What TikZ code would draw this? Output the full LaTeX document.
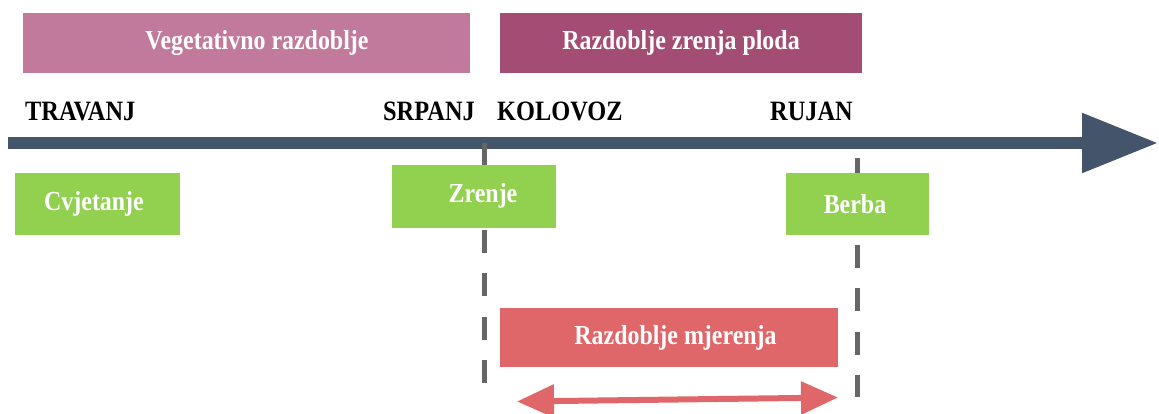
\documentclass[tikz,border=0pt]{standalone}
\usepackage{fontspec}
\setmainfont{Liberation Serif}[FakeStretch=0.87]
\usetikzlibrary{arrows.meta}
\definecolor{vegc}{HTML}{C27A9C}
\definecolor{zrc}{HTML}{A44D74}
\definecolor{grn}{HTML}{92D050}
\definecolor{redc}{HTML}{DF6769}
\definecolor{axc}{HTML}{44546A}
\definecolor{dashc}{HTML}{666666}
\begin{document}
\begin{tikzpicture}[x=1pt,y=1pt,
  box/.style={rectangle, inner sep=0pt, draw=none},
  btext/.style={text=white, font=\fontsize{27.5}{30}\selectfont\bfseries, inner sep=0pt},
  month/.style={text=black, font=\fontsize{28}{30}\selectfont\bfseries, inner sep=0pt, anchor=base west},
  vdash/.style={draw=dashc, line width=5pt, dash pattern=on 23pt off 20.5pt},
  axis/.style={draw=axc, line width=12pt, -{Triangle[length=76pt,width=57pt]}},
  meas/.style={draw=redc, line width=6pt, {Triangle[length=37pt,width=32pt]}-{Triangle[length=37pt,width=32pt]}}
]
\useasboundingbox (0,0) rectangle (1159,-413);

% timeline
\coordinate (axL) at (8,-143);
\coordinate (axR) at (1158,-143);
\draw[axis] (axL) -- (axR);

% dashed verticals
\coordinate (d1a) at (484,-142.5);
\coordinate (d1b) at (484,-385);
\coordinate (d2a) at (857,-157.5);
\coordinate (d2b) at (857,-397);
\draw[vdash] (d1a) -- (d1b);
\draw[vdash] (d2a) -- (d2b);

% period boxes
\node[box, fill=vegc, minimum width=447pt, minimum height=60pt] (veg) at (246.5,-43) {};
\node[btext] (vegt) at (257,-43) {Vegetativno razdoblje};
\node[box, fill=zrc, minimum width=362pt, minimum height=60pt] (zr) at (681,-43) {};
\node[btext] (zrt) at (681,-43) {Razdoblje zrenja ploda};

% months
\node[month] (tra) at (25,-120) {TRAVANJ};
\node[month] (srp) at (383,-120) {SRPANJ};
\node[month] (kol) at (497,-120) {KOLOVOZ};
\node[month] (ruj) at (770,-120) {RUJAN};

% green phase boxes
\node[box, fill=grn, minimum width=165pt, minimum height=62pt] (cvj) at (97.5,-204) {};
\node[btext] (cvjt) at (94,-204) {Cvjetanje};
\node[box, fill=grn, minimum width=164pt, minimum height=63pt] (zre) at (474,-196.5) {};
\node[btext] (zret) at (483,-196) {Zrenje};
\node[box, fill=grn, minimum width=143pt, minimum height=62pt] (ber) at (857.5,-204) {};
\node[btext] (bert) at (855,-204) {Berba};

% measurement
\node[box, fill=redc, minimum width=338pt, minimum height=59pt] (mj) at (669,-337.5) {};
\node[btext] (mjt) at (675.5,-337.5) {Razdoblje mjerenja};
\coordinate (ma) at (517,-401.5);
\coordinate (mb) at (838,-397.5);
\draw[meas] (ma) -- (mb);
\end{tikzpicture}
\end{document}
